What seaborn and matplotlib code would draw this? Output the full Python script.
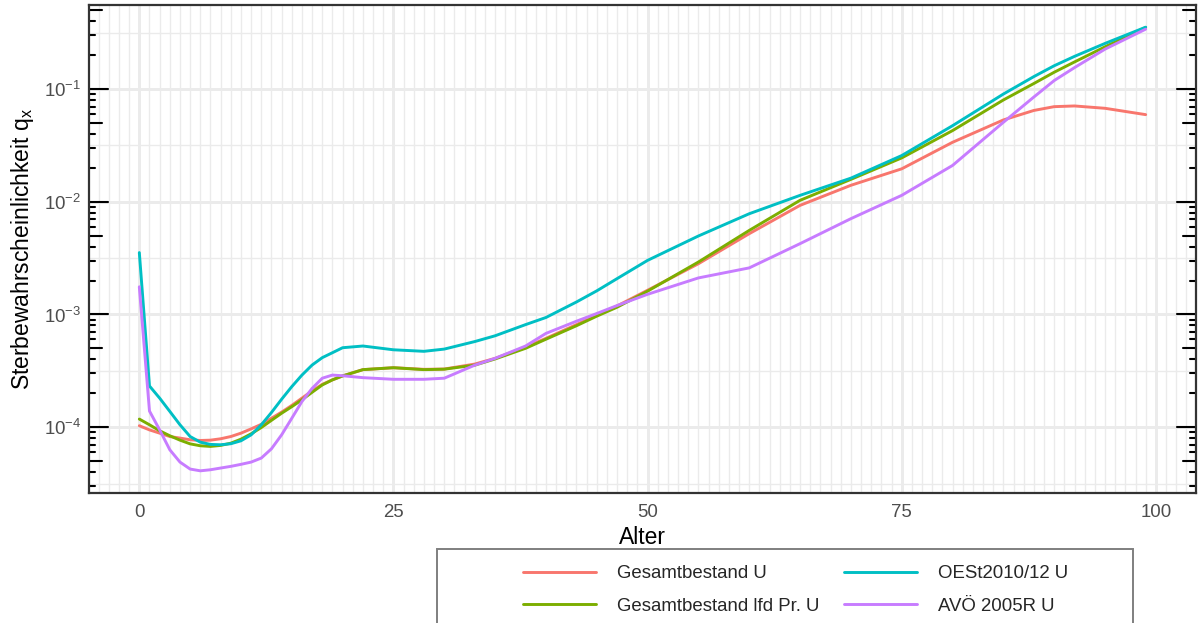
import numpy as np
import pandas as pd
import matplotlib
matplotlib.use("Agg")
import matplotlib.pyplot as plt
import matplotlib.ticker as mticker
from matplotlib.lines import Line2D
from matplotlib.patches import Rectangle
import seaborn as sns

# Ages at which the mortality rates are given
alter = list(range(0, 21)) + [22, 25, 28, 30, 33, 35, 38, 40, 43, 45, 47, 50,
                              55, 60, 65, 70, 75, 80, 85, 88, 90, 92, 95, 99]

# Death probabilities q_x per table
gesamtbestand_u = [
    1.03e-4, 9.46e-5, 8.85e-5, 8.26e-5, 8.00e-5, 7.73e-5, 7.62e-5, 7.67e-5, 7.89e-5, 8.26e-5,
    8.85e-5, 9.66e-5, 1.06e-4, 1.20e-4, 1.36e-4, 1.56e-4, 1.81e-4, 2.10e-4, 2.40e-4, 2.63e-4,
    2.85e-4, 3.24e-4, 3.37e-4, 3.26e-4, 3.28e-4, 3.63e-4, 4.08e-4, 5.13e-4, 6.14e-4, 8.13e-4,
    9.86e-4, 1.19e-3, 1.64e-3, 2.82e-3, 5.21e-3, 9.29e-3, 1.40e-2, 1.96e-2, 3.37e-2, 5.32e-2,
    6.46e-2, 6.98e-2, 7.08e-2, 6.75e-2, 5.93e-2]
gesamtbestand_lfd = [
    1.18e-4, 1.05e-4, 9.29e-5, 8.39e-5, 7.67e-5, 7.11e-5, 6.84e-5, 6.75e-5, 6.89e-5, 7.21e-5,
    7.83e-5, 8.73e-5, 9.93e-5, 1.15e-4, 1.33e-4, 1.52e-4, 1.75e-4, 2.04e-4, 2.37e-4, 2.63e-4,
    2.85e-4, 3.24e-4, 3.37e-4, 3.24e-4, 3.27e-4, 3.55e-4, 4.03e-4, 5.01e-4, 6.03e-4, 7.94e-4,
    9.66e-4, 1.16e-3, 1.61e-3, 2.92e-3, 5.57e-3, 1.03e-2, 1.58e-2, 2.45e-2, 4.28e-2, 8.00e-2,
    0.112, 0.141, 0.174, 0.237, 0.352]
oest_2010 = [
    3.54e-3, 2.32e-4, 1.81e-4, 1.38e-4, 1.05e-4, 8.26e-5, 7.36e-5, 7.03e-5, 6.98e-5, 7.13e-5,
    7.57e-5, 8.55e-5, 1.05e-4, 1.35e-4, 1.77e-4, 2.29e-4, 2.90e-4, 3.56e-4, 4.14e-4, 4.58e-4,
    5.07e-4, 5.25e-4, 4.86e-4, 4.71e-4, 4.93e-4, 5.75e-4, 6.47e-4, 8.13e-4, 9.40e-4, 1.29e-3,
    1.62e-3, 2.08e-3, 3.02e-3, 4.97e-3, 7.83e-3, 1.14e-2, 1.62e-2, 2.57e-2, 4.73e-2, 9.03e-2,
    0.129, 0.161, 0.195, 0.254, 0.354]
avoe_2005r = [
    1.76e-3, 1.39e-4, 9.46e-5, 6.30e-5, 4.90e-5, 4.25e-5, 4.10e-5, 4.19e-5, 4.34e-5, 4.49e-5,
    4.68e-5, 4.90e-5, 5.32e-5, 6.43e-5, 8.55e-5, 1.20e-4, 1.69e-4, 2.21e-4, 2.72e-4, 2.90e-4,
    2.86e-4, 2.75e-4, 2.66e-4, 2.66e-4, 2.72e-4, 3.55e-4, 4.08e-4, 5.25e-4, 6.79e-4, 8.71e-4,
    1.02e-3, 1.20e-3, 1.51e-3, 2.11e-3, 2.59e-3, 4.25e-3, 7.08e-3, 1.14e-2, 2.10e-2, 5.07e-2,
    8.50e-2, 0.119, 0.155, 0.226, 0.340]

tafeln = ["Gesamtbestand U", "Gesamtbestand lfd Pr. U", "OESt2010/12 U", "AVÖ 2005R U"]
farben = ["#F8766D", "#7CAE00", "#00BFC4", "#C77CFF"]
x_breaks = [0, 25, 50, 75, 100]
y_breaks = [1e-4, 1e-3, 1e-2, 1e-1]
y_labels = [r"$10^{-4}$", r"$10^{-3}$", r"$10^{-2}$", r"$10^{-1}$"]

df = pd.concat([
    pd.DataFrame({"Alter": alter, "qx": werte, "Tafel": name})
    for name, werte in zip(tafeln, [gesamtbestand_u, gesamtbestand_lfd, oest_2010, avoe_2005r])
], ignore_index=True)

sns.set_theme(style="white")
plt.rcParams["font.family"] = ["Liberation Sans", "DejaVu Sans"]
plt.rcParams["mathtext.fontset"] = "custom"
plt.rcParams["mathtext.rm"] = "Liberation Sans"
plt.rcParams["mathtext.it"] = "Liberation Sans:italic"
plt.rcParams["mathtext.default"] = "regular"

W, H = 1198, 623
fig = plt.figure(figsize=(W / 100, H / 100), dpi=100)
px_l, px_r, px_t, px_b = 89, 1196, 5, 493
ax = fig.add_axes([px_l / W, 1 - px_b / H, (px_r - px_l) / W, (px_b - px_t) / H])

sns.lineplot(data=df, x="Alter", y="qx", hue="Tafel", hue_order=tafeln,
             palette=dict(zip(tafeln, farben)), linewidth=2.1, ax=ax, legend=False,
             zorder=3)

ax.set_yscale("log")
# 5 % expansion of the data range, as in ggplot
xmin, xmax = min(alter), max(alter)
dx = (xmax - xmin) * 0.05
ax.set_xlim(xmin - dx, xmax + dx)
lo, hi = np.log10(df["qx"].min()), np.log10(df["qx"].max())
dy = (hi - lo) * 0.05
ax.set_ylim(10 ** (lo - dy), 10 ** (hi + dy))

grid_c = "#EBEBEB"
ax.xaxis.set_major_locator(mticker.FixedLocator(x_breaks))
ax.xaxis.set_minor_locator(mticker.FixedLocator([v for v in range(-4, 104) if v not in x_breaks]))
ax.yaxis.set_major_locator(mticker.FixedLocator(y_breaks))
ax.yaxis.set_major_formatter(mticker.FixedFormatter(y_labels))
ax.yaxis.set_minor_locator(mticker.FixedLocator([10 ** (k + 0.5) for k in range(-6, 1)]))
ax.yaxis.set_minor_formatter(mticker.NullFormatter())
ax.grid(True, which="major", color=grid_c, linewidth=2.1, zorder=0)
ax.grid(True, which="minor", color=grid_c, linewidth=1.0, zorder=0)
ax.set_axisbelow(True)

ax.tick_params(axis="x", which="major", length=4.2, width=1.3, color="#333333",
               labelsize=13.4, labelcolor="#4D4D4D", pad=3.5)
ax.tick_params(axis="y", which="major", length=0, labelsize=13.4,
               labelcolor="#4D4D4D", pad=5.5)
ax.tick_params(which="minor", length=0)

for s in ax.spines.values():
    s.set_color("#333333")
    s.set_linewidth(1.6)
    s.set_zorder(5)

# logarithmic tick marks inside the panel, left and right
w_px = px_r - px_l
for k in range(-6, 1):
    for m in range(1, 10):
        v = m * 10.0 ** k
        if not (ax.get_ylim()[0] <= v <= ax.get_ylim()[1]):
            continue
        L = 18.9 if m == 1 else (12.6 if m == 5 else 6.3)
        f = L / w_px
        tr = ax.get_yaxis_transform()
        ax.add_line(Line2D([0, f], [v, v], transform=tr, color="black", lw=1.5, zorder=4))
        ax.add_line(Line2D([1 - f, 1], [v, v], transform=tr, color="black", lw=1.5, zorder=4))

ax.set_xlabel("Alter", fontsize=16.5, color="black", labelpad=4)
ax.set_ylabel(r"Sterbewahrscheinlichkeit q$_\mathrm{x}$", fontsize=16.5, color="black",
              labelpad=6)

# legend below the panel
fig.add_artist(Rectangle((437 / W, 1 - 650 / H), (1133 - 437) / W, (650 - 549) / H,
                         transform=fig.transFigure, fill=False, edgecolor="#7F7F7F",
                         linewidth=1.4))
handles = [Line2D([], [], color=c, lw=2.1) for c in farben]
fig.legend(handles, tafeln, ncol=2, loc="upper left",
           bbox_to_anchor=(523 / W, 1 - 565 / H), frameon=False, borderpad=0,
           borderaxespad=0, handlelength=3.92, handletextpad=1.15, columnspacing=1.29,
           labelspacing=0.84, fontsize=13.4)

fig.savefig("out.png", dpi=100)
